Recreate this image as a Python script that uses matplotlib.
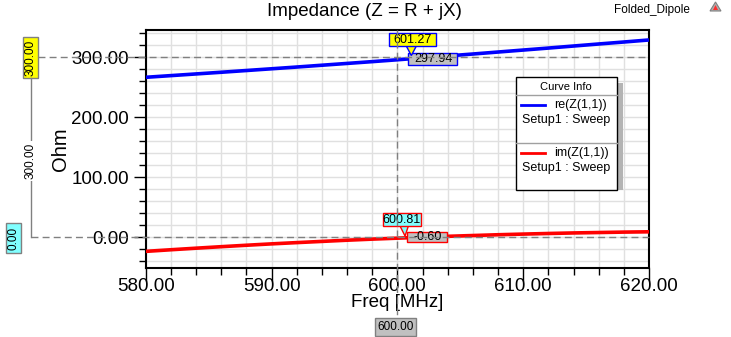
import matplotlib
matplotlib.use('Agg')
import matplotlib.pyplot as plt
from matplotlib.patches import Rectangle, Polygon
from matplotlib.lines import Line2D
from matplotlib.ticker import MultipleLocator, FormatStrFormatter

# ---------------- data ----------------
freq_mhz = [580, 582, 584, 586, 588, 590, 592, 594, 596, 598, 600,
            602, 604, 606, 608, 610, 612, 614, 616, 618, 620]
re_z = [266.7, 269.5, 272.3, 275.1, 278.0, 280.9, 283.8, 286.8, 289.8, 292.8, 295.9,
        299.1, 302.3, 305.5, 308.8, 312.1, 315.4, 318.8, 322.2, 325.5, 328.9]
im_z = [-23.3, -20.6, -18.0, -15.5, -13.1, -10.8, -8.7, -6.7, -4.7, -2.9, -1.3,
        0.3, 1.8, 3.1, 4.4, 5.5, 6.5, 7.4, 8.1, 8.8, 9.3]
series_names = ['re(Z(1,1))', 'im(Z(1,1))']
series_setup = ['Setup1 : Sweep', 'Setup1 : Sweep']
series_colors = ['#0000ff', '#ff0000']
# point markers: (x, y, text of label, text of value)
markers = [(601.27, 297.94, '601.27', '297.94'),
           (600.81, -0.60, '600.81', '-0.60')]
x_marker = 600.0
y_markers = [300.0, 0.0]
x_ticks = [580, 590, 600, 610, 620]
y_ticks = [0, 100, 200, 300]

plt.rcParams['font.family'] = ['Liberation Sans', 'DejaVu Sans']

W, H = 731, 337
fig = plt.figure(figsize=(W / 100, H / 100), dpi=100)
fig.patch.set_facecolor('white')


def fx(x):
    return x / W


def fy(y):
    return 1 - y / H


AX_L, AX_R, AX_T, AX_B = 145.7, 649.0, 29.7, 268.0
ax = fig.add_axes([fx(AX_L), fy(AX_B), (AX_R - AX_L) / W, (AX_B - AX_T) / H])

for vals, col in zip([re_z, im_z], series_colors):
    ax.plot(freq_mhz, vals, color=col, lw=2.6, solid_capstyle='butt', zorder=3)

ax.set_xlim(580, 620)
ax.set_ylim(-51, 346)
ax.set_xticks(x_ticks)
ax.set_yticks(y_ticks)
ax.xaxis.set_minor_locator(MultipleLocator(2))
ax.yaxis.set_minor_locator(MultipleLocator(20))
ax.xaxis.set_major_formatter(FormatStrFormatter('%.2f'))
ax.yaxis.set_major_formatter(FormatStrFormatter('%.2f'))
ax.tick_params(axis='both', which='major', direction='out', length=9, width=1,
               labelsize=13.5)
ax.tick_params(axis='x', which='major', pad=-1.5)
ax.tick_params(axis='y', which='major', pad=3)
ax.tick_params(axis='both', which='minor', direction='out', length=5, width=1)
ax.tick_params(top=False, right=False)
ax.grid(True, which='both', color='#e0e0e0', lw=1, zorder=0)
ax.set_axisbelow(True)
for s in ax.spines.values():
    s.set_linewidth(1.5)
ax.set_xlabel('Freq [MHz]', fontsize=13.5, labelpad=-1)
ax.set_ylabel('Ohm', fontsize=14.5, labelpad=1)

fig.text(fx(364), fy(11), 'Impedance (Z = R + jX)', fontsize=13.5, ha='center', va='center')
fig.text(fx(652), fy(10), 'Folded_Dipole', fontsize=8.5, ha='center', va='center')
# small icon
fig.patches.append(Polygon([(fx(710), fy(11)), (fx(721), fy(11)), (fx(715.5), fy(2))],
                           closed=True, fc='#b0b0b0', ec='#808080', lw=0.8,
                           transform=fig.transFigure))
fig.patches.append(Polygon([(fx(713), fy(10)), (fx(718), fy(10)), (fx(715.5), fy(5))],
                           closed=True, fc='#ff3030', ec='none', transform=fig.transFigure))


def to_px(xv, yv):
    dx, dy = ax.transData.transform((xv, yv))
    return dx, H - dy


def rect(x0, y0, x1, y1, fc, ec, lw=1.0, z=10):
    fig.patches.append(Rectangle((fx(x0), fy(y1)), (x1 - x0) / W, (y1 - y0) / H,
                                 fc=fc, ec=ec, lw=lw, transform=fig.transFigure, zorder=z))


def line(xs, ys, **kw):
    fig.lines.append(Line2D([fx(v) for v in xs], [fy(v) for v in ys],
                            transform=fig.transFigure, **kw))


GRAY = '#808080'
DASH = dict(color=GRAY, lw=1, linestyle=(0, (5, 3)), zorder=20)

# ---- cross-hair markers ----
_, y300 = to_px(AX_L, y_markers[0])
_, y0 = to_px(AX_L, y_markers[1])
xm, _ = to_px(x_marker, 0)
line([38.3, AX_R], [y300, y300], **DASH)
line([30.5, AX_R], [y0, y0], **DASH)
line([xm, xm], [AX_T, 318.3], **DASH)
line([30.5, 30.5], [78.3, y0], color=GRAY, lw=1, zorder=19)

rect(22.7, 36.7, 38.3, 78.3, '#ffff00', GRAY)
fig.text(fx(30.8), fy(57.5), '%.2f' % y_markers[0], rotation=90, fontsize=8.5,
         ha='center', va='center', zorder=21)
rect(5.7, 222.7, 21.3, 253.3, '#80ffff', GRAY)
fig.text(fx(13.8), fy(238), '%.2f' % y_markers[1], rotation=90, fontsize=8.5,
         ha='center', va='center', zorder=21)
fig.text(fx(30.8), fy(161), '%.2f' % (y_markers[0] - y_markers[1]), rotation=90,
         fontsize=8.5, ha='center', va='center', zorder=21,
         bbox=dict(fc='white', ec='none', pad=1))
rect(375, 318.3, 416, 335.7, '#c0c0c0', GRAY)
fig.text(fx(395.5), fy(327.3), '%.2f' % x_marker, fontsize=8.5, ha='center',
         va='center', zorder=21)

# ---- point markers ----
geo = [  # label box, triangle base, tip, value box (relative pixel offsets)
    dict(lab=(-24, -25.2, 22.7, -12.5), base=(-7, 3, -12.5), tip=(-2, -3),
         val=(-5.3, -5.2, 43.4, 6.5), fc='#ffff00'),
    dict(lab=(-24.8, -24.4, 13.2, -11.7), base=(-7.5, 0.8, -11.7), tip=(-2.5, -1.7),
         val=(-0.8, -6.0, 39.8, 4.6), fc='#80ffff'),
]
for (mx, my, lab, val), g, col in zip(markers, geo, series_colors):
    px, py = to_px(mx, my)
    vx0, vy0, vx1, vy1 = g['val']
    rect(px + vx0, py + vy0, px + vx1, py + vy1, '#c0c0c0', col, z=11)
    fig.text(fx(px + (vx0 + vx1) / 2 + 1), fy(py + (vy0 + vy1) / 2), val,
             fontsize=9, ha='center', va='center', zorder=14)
    bx0, bx1, by = g['base']
    tx, ty = g['tip']
    fig.patches.append(Polygon([(fx(px + bx0), fy(py + by)), (fx(px + bx1), fy(py + by)),
                                (fx(px + tx), fy(py + ty))], closed=True, fc=g['fc'],
                               ec=col, lw=1, transform=fig.transFigure, zorder=12))
    lx0, ly0, lx1, ly1 = g['lab']
    rect(px + lx0, py + ly0, px + lx1, py + ly1, g['fc'], col, z=13)
    fig.text(fx(px + (lx0 + lx1) / 2), fy(py + (ly0 + ly1) / 2), lab,
             fontsize=9, ha='center', va='center', zorder=14)

# ---- Curve Info legend ----
rect(616.7, 83, 622.7, 190, '#b4b4b4', 'none', lw=0, z=9)
rect(516, 77.3, 616.7, 190, 'white', 'black', lw=1, z=10)
fig.text(fx(566.3), fy(86.5), 'Curve Info', fontsize=8, ha='center', va='center', zorder=12)
line([516, 616.7], [95, 95], color='#a0a0a0', lw=1, zorder=11)
line([516, 616.7], [143.3, 143.3], color='#a0a0a0', lw=1, zorder=11)
for i, (nm, st, col) in enumerate(zip(series_names, series_setup, series_colors)):
    y = 105 + i * 48.3
    line([520.7, 545], [y, y], color=col, lw=2, zorder=12)
    fig.text(fx(554), fy(y), nm, fontsize=9, ha='left', va='center', zorder=12)
    fig.text(fx(521.7), fy(y + 15), st, fontsize=9, ha='left', va='center', zorder=12)

fig.savefig('out.png', dpi=100, facecolor='white')
